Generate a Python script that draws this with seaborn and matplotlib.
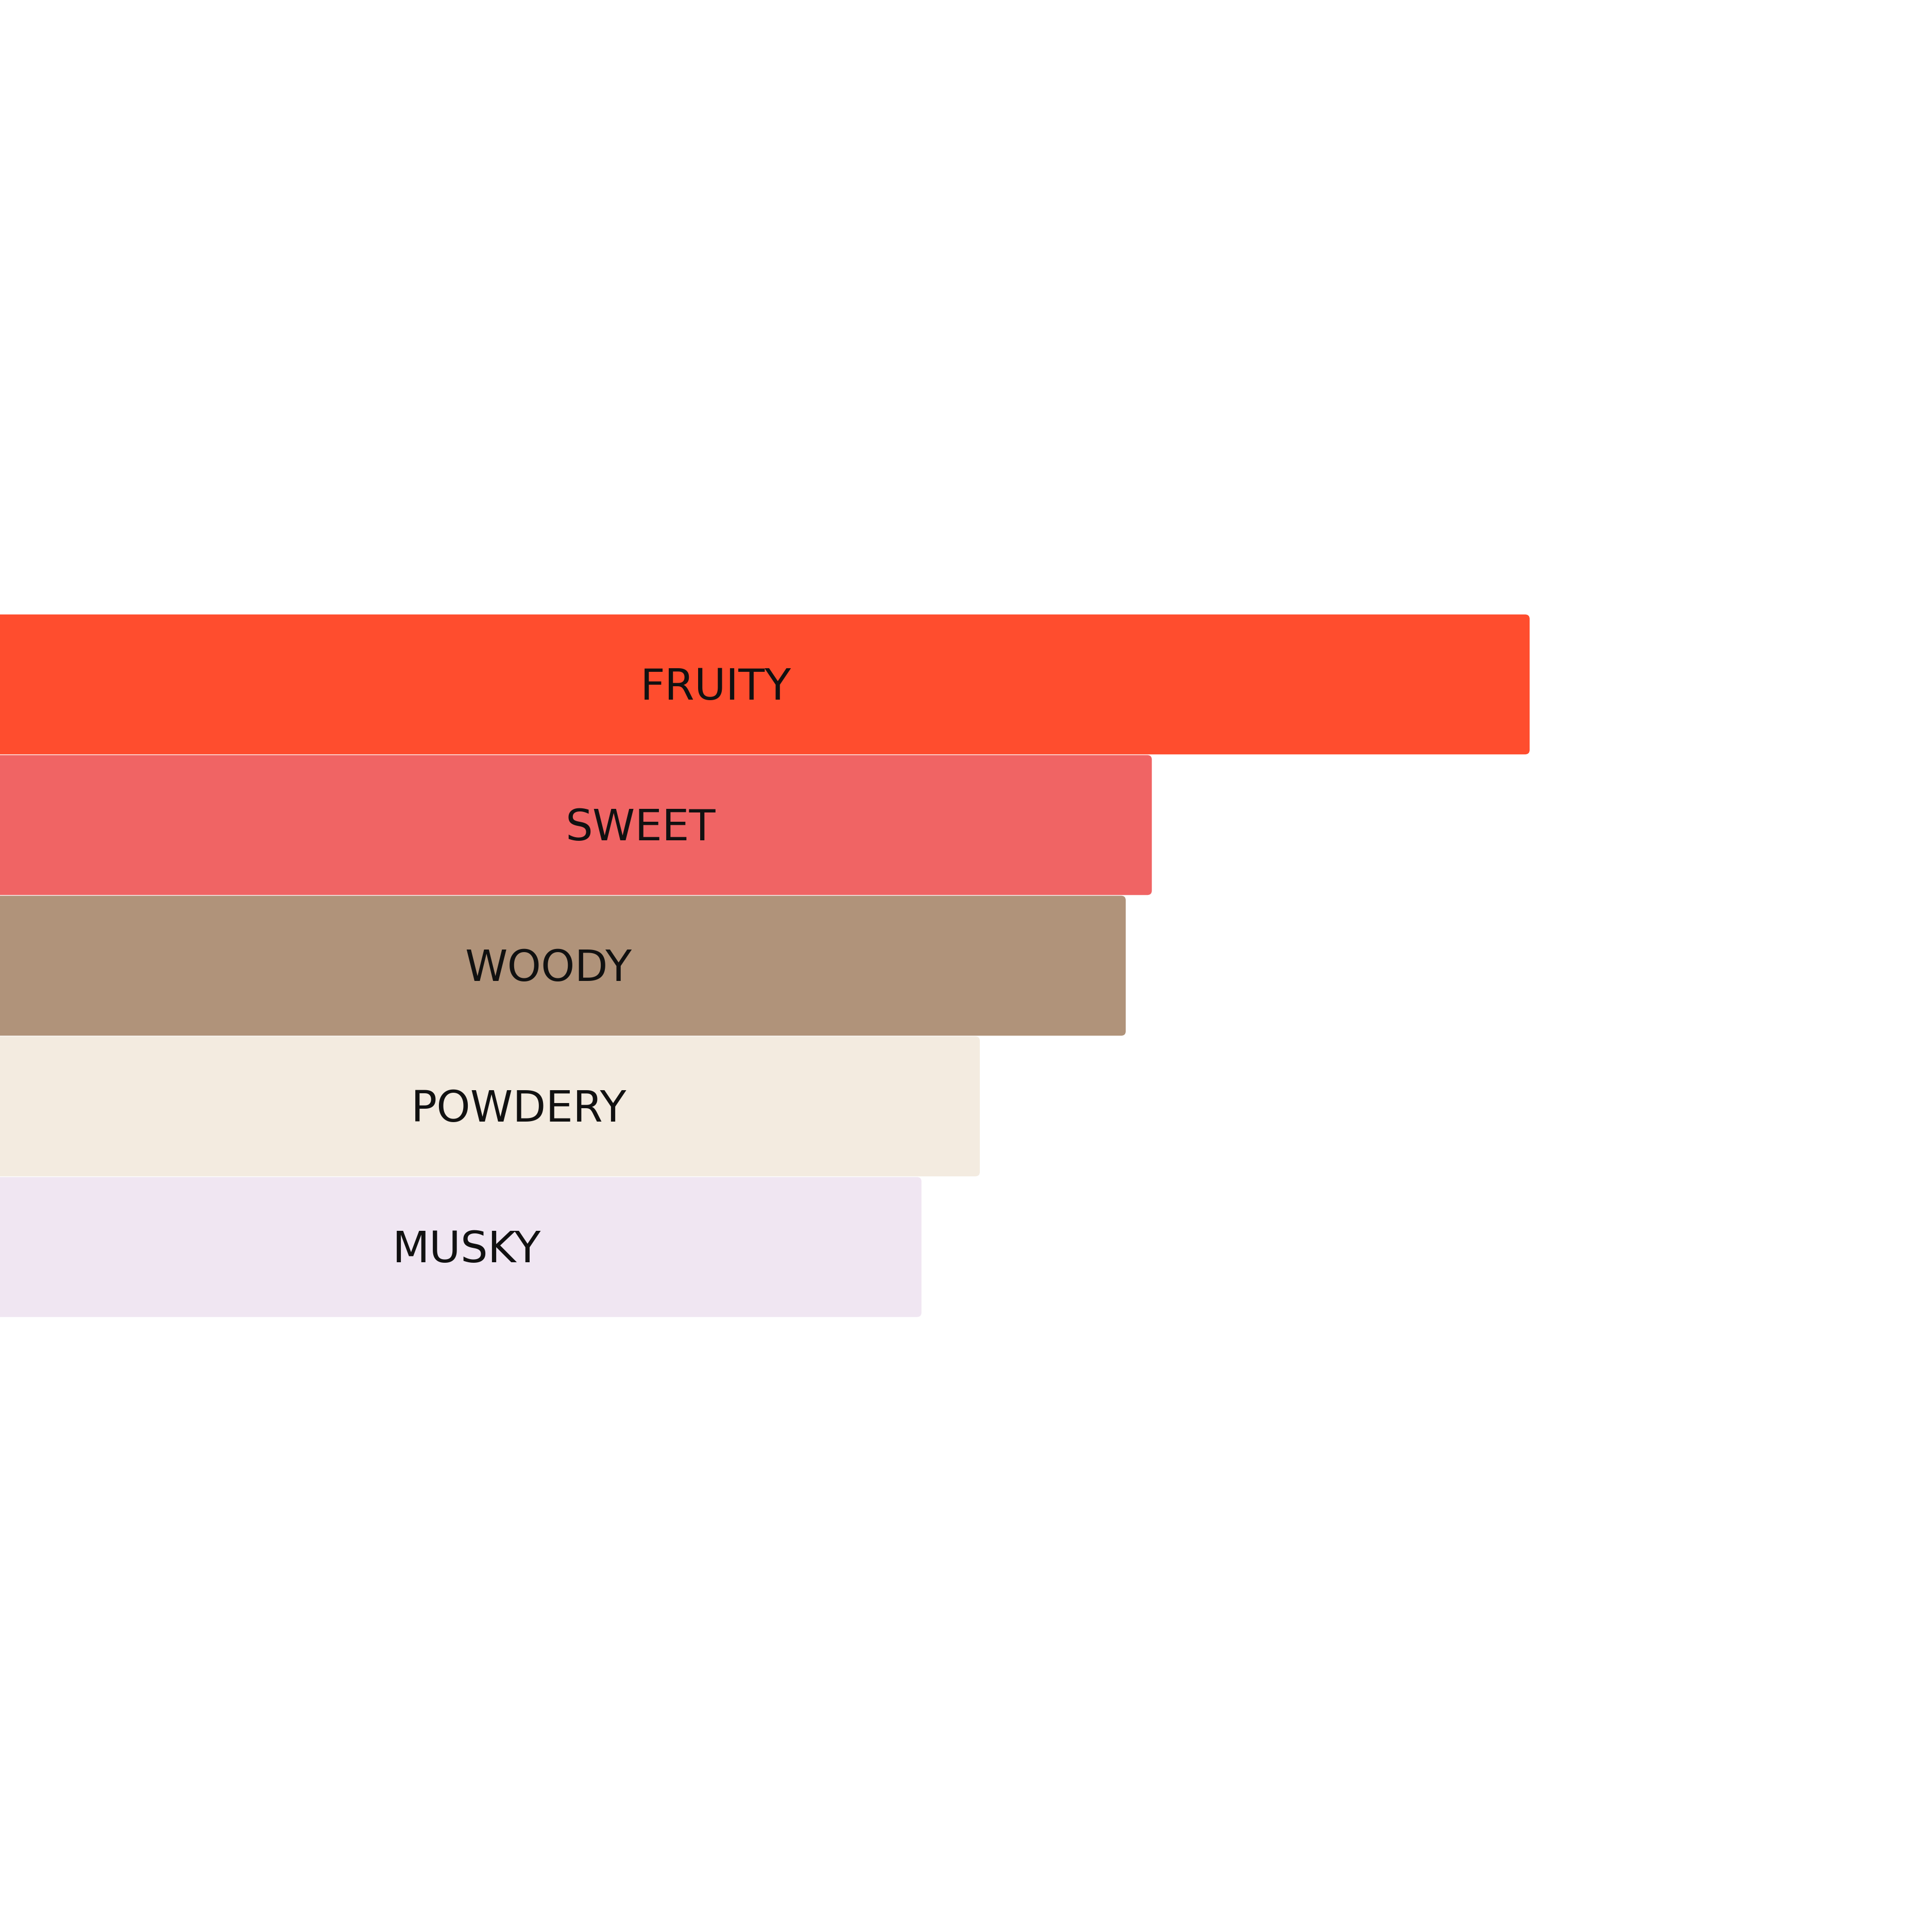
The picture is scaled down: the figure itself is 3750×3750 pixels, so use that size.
import matplotlib
matplotlib.use("Agg")
import matplotlib.pyplot as plt
from matplotlib.patches import FancyBboxPatch
import seaborn as sns
import pandas as pd

# данные
notes = ["FRUITY", "SWEET", "WOODY", "POWDERY", "MUSKY"]
scores = [100, 75.4, 73.7, 64.2, 60.4]
label_pos = [47.0, 42.1, 36.1, 34.2, 30.8]
colors = ["#FF4D2E", "#F06464", "#B0937A", "#F3EBE0", "#F0E6F2"]

df = pd.DataFrame({"note": notes, "score": scores})

sns.set_style("white")
plt.rcParams['font.family'] = ['DejaVu Sans']

fig = plt.figure(figsize=(37.5, 37.5), dpi=100)
ax = fig.add_axes([0, 0, 1, 1])

sns.barplot(data=df, x="score", y="note", hue="note", palette=colors,
            saturation=1, orient="h", width=0.995, linewidth=0,
            legend=False, ax=ax)

# скруглённые углы
for bar in list(ax.patches):
    x, y = bar.get_x(), bar.get_y()
    w, h = bar.get_width(), bar.get_height()
    fc = bar.get_facecolor()
    bar.remove()
    ax.add_patch(FancyBboxPatch((x, y), w, h,
                                boxstyle="round,pad=0,rounding_size=0.3",
                                mutation_aspect=0.03 * 3.5,
                                facecolor=fc, edgecolor="none"))

for i, (n, lx) in enumerate(zip(notes, label_pos)):
    ax.text(lx, i + 0.108, n, ha="center", va="baseline",
            fontsize=60, color="#111111")

ax.set_xlim(0.4, 126.2)
ax.set_ylim(8.87, -4.866)
ax.axis("off")

fig.savefig("out.png", dpi=100, facecolor="white")
